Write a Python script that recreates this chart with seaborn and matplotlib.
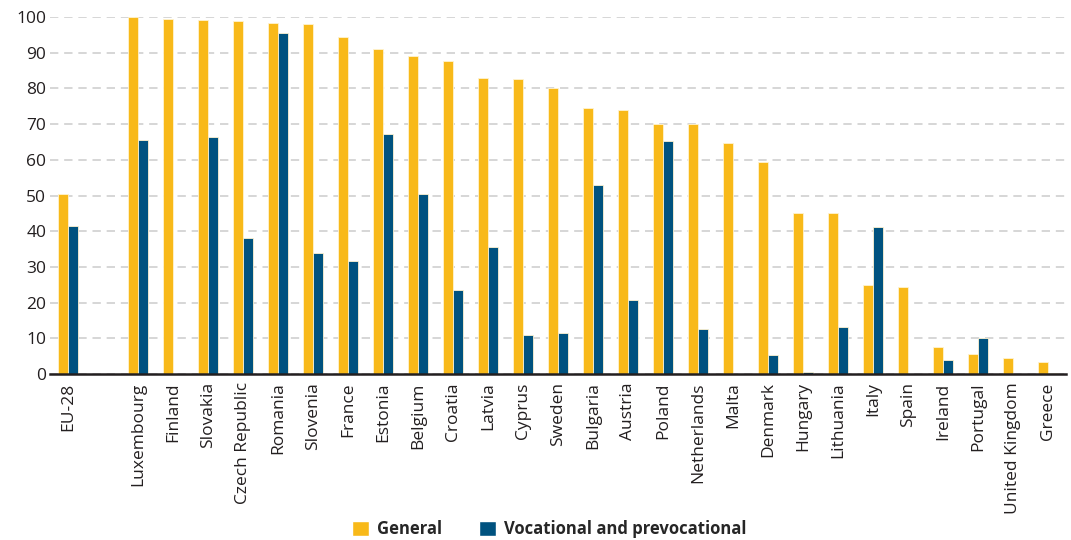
import numpy as np
import pandas as pd
import matplotlib
matplotlib.use("Agg")
import matplotlib.pyplot as plt
import seaborn as sns

categories = ["EU-28", " ", "Luxembourg", "Finland", "Slovakia", "Czech Republic", "Romania",
              "Slovenia", "France", "Estonia", "Belgium", "Croatia", "Latvia", "Cyprus",
              "Sweden", "Bulgaria", "Austria", "Poland", "Netherlands", "Malta", "Denmark",
              "Hungary", "Lithuania", "Italy", "Spain", "Ireland", "Portugal",
              "United Kingdom", "Greece"]
general = [50.5, np.nan, 100.0, 99.5, 99.2, 98.8, 98.4, 98.0, 94.3, 91.0, 89.2, 87.8, 83.0,
           82.6, 80.2, 74.5, 74.0, 70.0, 70.0, 64.8, 59.5, 45.2, 45.2, 25.0, 24.5, 7.5,
           5.5, 4.6, 3.5]
vocational = [41.5, np.nan, 65.5, 0.0, 66.5, 38.0, 95.5, 34.0, 31.7, 67.2, 50.5, 23.6, 35.5,
              10.8, 11.6, 53.0, 20.8, 65.2, 12.7, 0.0, 5.4, 0.5, 13.2, 41.2, 0.0, 3.8,
              10.0, 0.0, 0.3]
series = ["General", "Vocational and prevocational"]
colors = ["#F8B919", "#00527F"]

df = pd.DataFrame({
    "country": categories * 2,
    "value": general + vocational,
    "series": [series[0]] * len(categories) + [series[1]] * len(categories),
})

sns.set_style("white")
plt.rcParams["font.family"] = ["Open Sans", "DejaVu Sans"]

fig = plt.figure(figsize=(10.71, 5.40), dpi=100)
ax = fig.add_axes([0.047, 0.3074, 0.948, 0.6611])

sns.barplot(data=df, x="country", y="value", hue="series", order=categories,
            hue_order=series, palette=colors, saturation=1, width=0.58, ax=ax,
            edgecolor="#fff3d0", linewidth=0.6, errorbar=None, legend=False)

ax.set_ylim(0, 100)
ax.set_xlim(-0.5, len(categories) - 0.5)
ax.set_yticks(np.arange(0, 101, 10))
ax.yaxis.grid(True, linestyle=(0, (5, 3.5)), color="#cfcfcf", linewidth=1.2)
ax.set_axisbelow(True)
ax.set_xlabel("")
ax.set_ylabel("")

for s in ["left", "right", "top"]:
    ax.spines[s].set_visible(False)
ax.spines["bottom"].set_color("#231f20")
ax.spines["bottom"].set_linewidth(1.8)

ax.set_xticks(np.arange(len(categories)))
ax.set_xticklabels(categories, rotation=90, fontsize=12.5, color="#231f20")
ax.set_xticks(np.arange(-0.5, len(categories)), minor=True)
ax.tick_params(axis="x", which="major", length=0, pad=6)
ax.tick_params(axis="x", which="minor", length=5, width=1.8, color="#231f20", direction="out")
ax.tick_params(axis="y", length=0, labelsize=12.5, labelcolor="#231f20", pad=3)

handles = [plt.Rectangle((0, 0), 1, 1, facecolor=c) for c in colors]
fig.legend(handles, series, loc="lower center", bbox_to_anchor=(0.513, -0.025), ncol=2,
           frameon=False, prop={"weight": "bold", "size": 12}, handlelength=1.0,
           handleheight=1.0, columnspacing=2.2, handletextpad=0.5)

fig.savefig("out.png", dpi=100)
